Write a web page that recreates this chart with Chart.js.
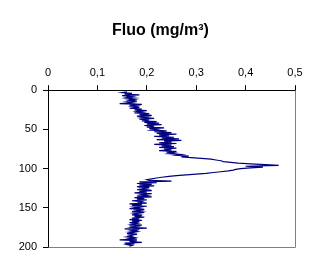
<!DOCTYPE html>
<html>
<head>
<meta charset="utf-8">
<script src="https://cdn.jsdelivr.net/npm/chart.js@4"></script>
<style>
  html, body { margin: 0; padding: 0; background: #fff; }
  #wrap { width: 321px; height: 273px; }
</style>
</head>
<body>
<div id="wrap"><canvas id="fluoChart"></canvas></div>
<script>
const title = 'Fluo (mg/m³)';
const xTickValues = [0, 0.1, 0.2, 0.3, 0.4, 0.5];
const xTickLabels = ['0', '0,1', '0,2', '0,3', '0,4', '0,5'];
const yTickValues = [0, 50, 100, 150, 200];
const yTickLabels = ['0', '50', '100', '150', '200'];

const depths = [
  2, 3, 4, 5, 6, 7, 8, 9, 10,
  11, 12, 13, 14, 15, 16, 17, 18, 19, 20,
  21, 22, 23, 24, 25, 26, 27, 28, 29, 30,
  31, 32, 33, 34, 35, 36, 37, 38, 39, 40,
  41, 42, 43, 44, 45, 46, 47, 48, 49, 50,
  51, 52, 53, 54, 55, 56, 57, 58, 59, 60,
  61, 62, 63, 64, 65, 66, 67, 68, 69, 70,
  71, 72, 73, 74, 75, 76, 77, 78, 79, 80,
  81, 82, 83, 84, 85, 86, 87, 88, 89, 90,
  91, 92, 93, 94, 95, 96, 97, 98, 99, 100,
  101, 102, 103, 104, 105, 106, 107, 108, 109, 110,
  111, 112, 113, 114, 115, 116, 117, 118, 119, 120,
  121, 122, 123, 124, 125, 126, 127, 128, 129, 130,
  131, 132, 133, 134, 135, 136, 137, 138, 139, 140,
  141, 142, 143, 144, 145, 146, 147, 148, 149, 150,
  151, 152, 153, 154, 155, 156, 157, 158, 159, 160,
  161, 162, 163, 164, 165, 166, 167, 168, 169, 170,
  171, 172, 173, 174, 175, 176, 177, 178, 179, 180,
  181, 182, 183, 184, 185, 186, 187, 188, 189, 190,
  191, 192, 193, 194, 195, 196, 197, 198, 199
];

const fluo = [
  0.16, 0.15, 0.17, 0.155, 0.185, 0.15, 0.17, 0.16, 0.175,
  0.16, 0.175, 0.165, 0.18, 0.16, 0.17, 0.145, 0.19, 0.165, 0.18,
  0.17, 0.185, 0.165, 0.19, 0.175, 0.2, 0.18, 0.19, 0.175, 0.205,
  0.185, 0.21, 0.18, 0.2, 0.19, 0.215, 0.185, 0.205, 0.19, 0.22,
  0.195, 0.225, 0.2, 0.23, 0.195, 0.215, 0.2, 0.235, 0.205, 0.22,
  0.21, 0.24, 0.215, 0.25, 0.22, 0.26, 0.225, 0.245, 0.215, 0.255,
  0.23, 0.265, 0.22, 0.27, 0.235, 0.25, 0.225, 0.26, 0.215, 0.25,
  0.23, 0.255, 0.225, 0.26, 0.235, 0.25, 0.225, 0.26, 0.24, 0.255,
  0.245, 0.27, 0.26, 0.285, 0.27, 0.29, 0.31, 0.33, 0.34, 0.35,
  0.355, 0.37, 0.385, 0.41, 0.44, 0.467, 0.4, 0.435, 0.41, 0.39,
  0.38, 0.375, 0.365, 0.35, 0.335, 0.32, 0.3, 0.28, 0.26, 0.245,
  0.23, 0.22, 0.21, 0.2, 0.205, 0.25, 0.185, 0.22, 0.18, 0.21,
  0.185, 0.215, 0.18, 0.205, 0.19, 0.2, 0.18, 0.21, 0.185, 0.2,
  0.175, 0.21, 0.19, 0.2, 0.18, 0.21, 0.175, 0.195, 0.18, 0.2,
  0.17, 0.19, 0.185, 0.2, 0.165, 0.19, 0.17, 0.2, 0.175, 0.185,
  0.165, 0.195, 0.18, 0.19, 0.17, 0.195, 0.175, 0.185, 0.17, 0.19,
  0.175, 0.195, 0.17, 0.185, 0.165, 0.19, 0.17, 0.185, 0.165, 0.18,
  0.17, 0.19, 0.165, 0.18, 0.17, 0.2, 0.155, 0.185, 0.17, 0.18,
  0.165, 0.175, 0.16, 0.18, 0.165, 0.17, 0.16, 0.175, 0.165, 0.18,
  0.145, 0.18, 0.165, 0.19, 0.155, 0.175, 0.16, 0.17, 0.165
];

const fontFamily = 'Arial, "Liberation Sans", sans-serif';

function tickLabel(values, labels, value) {
  const i = values.findIndex(v => Math.abs(v - value) < 1e-9);
  return i === -1 ? '' : labels[i];
}

// grey right/bottom edges of the plot area, like the old spreadsheet frame
const frameEdges = {
  id: 'frameEdges',
  afterDatasetsDraw(chart) {
    const { ctx, chartArea: { right, bottom, left, top } } = chart;
    ctx.save();
    ctx.strokeStyle = '#808080';
    ctx.lineWidth = 1;
    ctx.beginPath();
    ctx.moveTo(Math.round(left) + 0.5, Math.round(bottom) + 0.5);
    ctx.lineTo(Math.round(right) + 0.5, Math.round(bottom) + 0.5);
    ctx.lineTo(Math.round(right) + 0.5, Math.round(top) + 0.5);
    ctx.stroke();
    ctx.restore();
  },
};

new Chart(document.querySelector('#fluoChart'), {
  type: 'scatter',
  data: {
    datasets: [
      {
        data: depths.map((d, i) => ({ x: fluo[i], y: d })),
        showLine: true,
        borderColor: '#000080',
        borderWidth: 1.2,
        pointRadius: 0,
        tension: 0,
      },
    ],
  },
  options: {
    responsive: true,
    maintainAspectRatio: false,
    animation: false,
    layout: {
      padding: { top: 0, right: 0, bottom: 26, left: 0 },
    },
    scales: {
      x: {
        type: 'linear',
        position: 'top',
        min: 0,
        max: 0.5,
        ticks: {
          stepSize: 0.1,
          padding: 6,
          color: '#000',
          font: { family: fontFamily, size: 11 },
          maxRotation: 0,
          callback: value => tickLabel(xTickValues, xTickLabels, value),
        },
        grid: {
          drawOnChartArea: false,
          drawTicks: true,
          tickLength: 5,
          color: '#000',
        },
        border: { display: true, color: '#000', width: 1 },
        afterFit(scale) {
          scale.height = 50;
        },
      },
      y: {
        type: 'linear',
        reverse: true,
        min: 0,
        max: 200,
        ticks: {
          stepSize: 50,
          padding: 6,
          color: '#000',
          font: { family: fontFamily, size: 11 },
          callback: value => tickLabel(yTickValues, yTickLabels, value),
        },
        grid: {
          drawOnChartArea: false,
          drawTicks: true,
          tickLength: 5,
          color: '#000',
        },
        border: { display: true, color: '#000', width: 1 },
        afterFit(scale) {
          scale.width = 48;
        },
      },
      // empty right-hand axis, only reserves the right margin so the title stays centred on the page
      yRight: {
        type: 'linear',
        position: 'right',
        min: 0,
        max: 200,
        ticks: { display: false },
        grid: { display: false, drawTicks: false },
        border: { display: false },
        afterFit(scale) {
          scale.width = 26;
        },
      },
    },
    plugins: {
      legend: { display: false },
      tooltip: { enabled: false },
      title: {
        display: true,
        text: title,
        color: '#000',
        font: { family: fontFamily, size: 16, weight: 'bold', lineHeight: 1.2 },
        padding: { top: 21, bottom: 0 },
      },
    },
  },
  plugins: [frameEdges],
});
</script>
</body>
</html>
